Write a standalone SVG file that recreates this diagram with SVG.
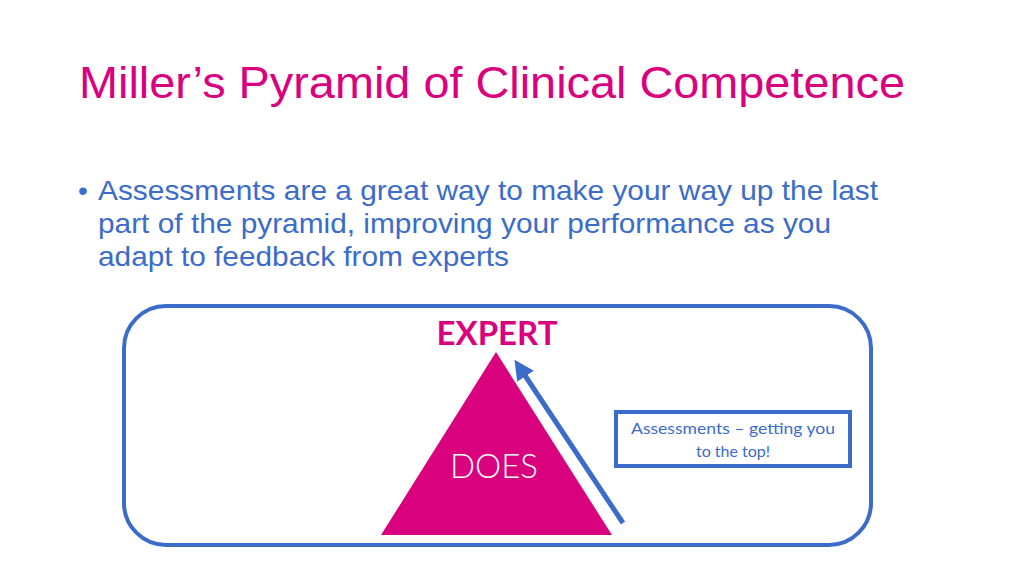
<svg xmlns="http://www.w3.org/2000/svg" width="1024" height="576" viewBox="0 0 1024 576">
<style>
.t{font-family:"Liberation Sans",Arial,sans-serif}
.c{font-family:Lato,"Open Sans",sans-serif}
</style>
<defs><marker id="ah" markerWidth="4" markerHeight="4" refX="2" refY="2" orient="auto" markerUnits="strokeWidth"><path d="M0,0L4,2L0,4z" fill="#3b6cc9"/></marker></defs>
<rect width="1024" height="576" fill="#fff"/>
<text class="t" x="79" y="98" font-size="44" fill="#d9017e" textLength="826" lengthAdjust="spacingAndGlyphs">Miller’s Pyramid of Clinical Competence</text>
<g class="t" font-size="28" fill="#3b6cc9">
<text x="78" y="200">•</text>
<text x="98" y="200" textLength="780" lengthAdjust="spacingAndGlyphs">Assessments are a great way to make your way up the last</text>
<text x="98" y="233" textLength="733" lengthAdjust="spacingAndGlyphs">part of the pyramid, improving your performance as you</text>
<text x="98" y="266" textLength="411" lengthAdjust="spacingAndGlyphs">adapt to feedback from experts</text>
</g>
<g id="frame"><rect x="124" y="306" width="747" height="239" rx="42" fill="none" stroke="#3b6cc9" stroke-width="4"/></g>
<g id="pyramid"><polygon points="496,352 381,535 612,535" fill="#d9017e"/>
<text class="c" x="494" y="478" font-size="33" font-weight="300" fill="#fff" text-anchor="middle">DOES</text></g>
<g id="expert"><text class="c" x="497" y="345" font-size="33" font-weight="bold" fill="#d9017e" text-anchor="middle">EXPERT</text></g>
<g id="box"><rect x="616" y="412" width="234" height="54" fill="#fff" stroke="#3b6cc9" stroke-width="4"/>
<text class="c" font-size="16" fill="#3b6cc9" text-anchor="middle"><tspan x="733" y="434" textLength="204" lengthAdjust="spacingAndGlyphs">Assessments – getting you</tspan><tspan x="733" y="457">to the top!</tspan></text></g>
<g id="connectors"><line x1="623" y1="523" x2="520" y2="368" stroke="#3b6cc9" stroke-width="5" marker-end="url(#ah)"/></g>
</svg>
